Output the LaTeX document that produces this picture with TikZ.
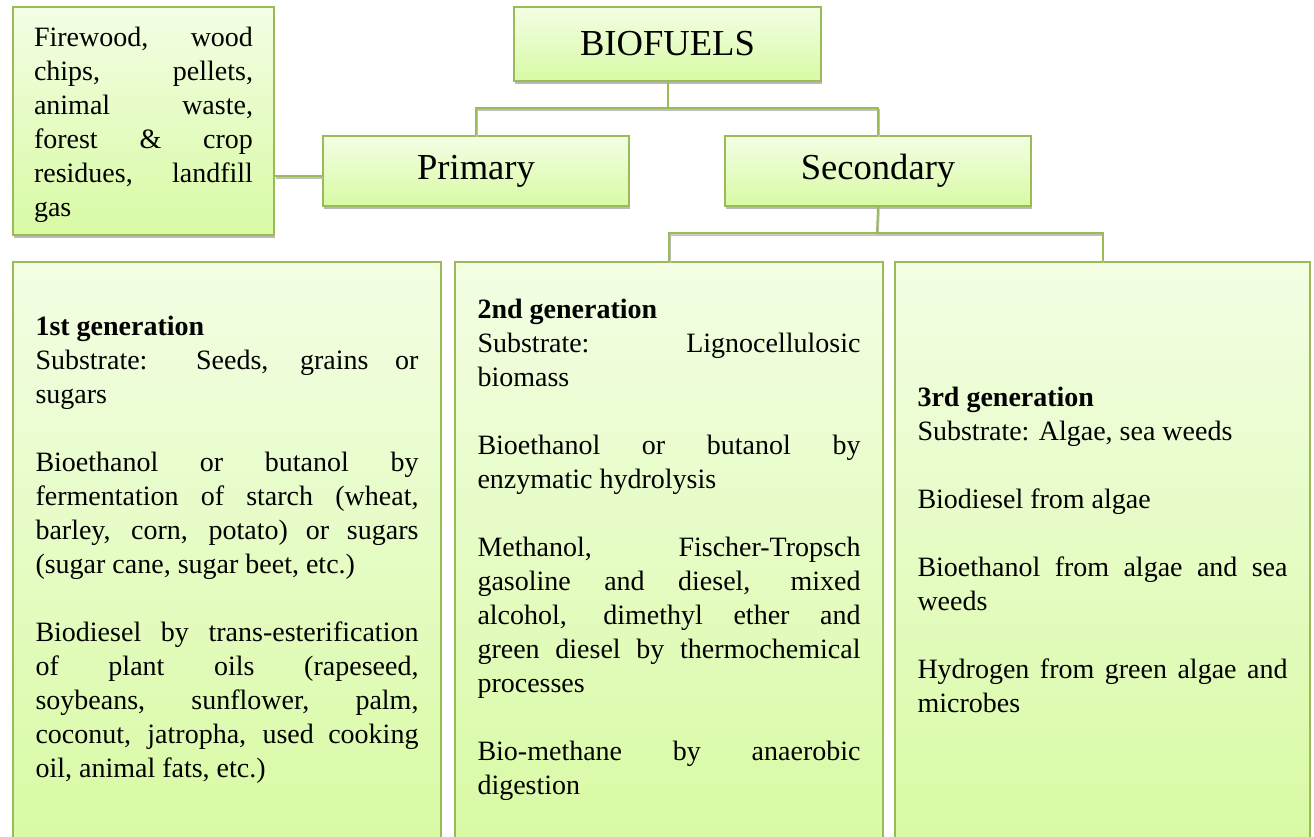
\documentclass[tikz,border=0pt]{standalone}
\usepackage{fontspec}
\setmainfont{Liberation Serif}
\usepackage{tikz}
\usetikzlibrary{calc,shadows}

\definecolor{leafline}{HTML}{9BBB59}
\definecolor{leaftop}{HTML}{F3FEE4}
\definecolor{leafbot}{HTML}{D8FAA4}
\setlength{\parindent}{0pt}
\setlength{\parskip}{0pt}
\tolerance=10000
\hbadness=10000
\newcommand{\blankrow}{\par\vspace{34pt}}

\tikzset{
  leaf/.style={draw=leafline, line width=2pt, top color=leaftop, bottom color=leafbot,
    drop shadow={shadow xshift=1pt, shadow yshift=-3pt, fill=gray!55, opacity=1},
    anchor=north west, text=black},
  headbox/.style={leaf, font=\fontsize{36.6}{40}\selectfont, minimum width=306pt, minimum height=70pt},
  notebox/.style={leaf, font=\fontsize{28}{34}\selectfont, align=justify, inner ysep=0pt},
  genbox/.style={notebox, minimum height=576pt, inner xsep=22.5pt},
  link/.style={draw=leafline, line width=2pt,
    preaction={draw=gray!50, line width=1.5pt, transform canvas={shift={(1pt,-2pt)}}}}
}

\begin{document}
\begin{tikzpicture}[x=1pt,y=-1pt]
    \useasboundingbox (0,0) rectangle (1314,836);
    \clip (0,0) rectangle (1314,836);

    \node[headbox, minimum width=307pt, minimum height=74pt] (bio) at (513,6) {BIOFUELS};
    \node[headbox] (prim) at (322,135) {Primary};
    \node[headbox] (sec) at (724,135) {Secondary};

    \node[notebox, text width=219pt, inner xsep=21pt, minimum height=228pt] (wood) at (12,6)
      {\rule{0pt}{28pt}Firewood, wood\linebreak chips, pellets,\linebreak animal waste,\linebreak forest \& crop\linebreak residues, landfill\linebreak gas};

    \node[genbox, text width=383pt] (gen1) at (12,261)
      {\textbf{1st generation}\par
       Substrate: Seeds, grains or\linebreak sugars\blankrow
       Bioethanol or butanol by\linebreak fermentation of starch (wheat,\linebreak barley, corn, potato) or sugars\linebreak (sugar cane, sugar beet, etc.)\blankrow
       Biodiesel by trans-esterification\linebreak of plant oils (rapeseed,\linebreak soybeans, sunflower, palm,\linebreak coconut, jatropha, used cooking\linebreak oil, animal fats, etc.)};
    \node[genbox, text width=383pt] (gen2) at (454,261)
      {\textbf{2nd generation}\par
       Substrate: Lignocellulosic\linebreak biomass\blankrow
       Bioethanol or butanol by\linebreak enzymatic hydrolysis\blankrow
       Methanol, Fischer-Tropsch\linebreak gasoline and diesel, mixed\linebreak alcohol, dimethyl ether and\linebreak green diesel by thermochemical\linebreak processes\blankrow
       Bio-methane by anaerobic\linebreak digestion};
    \node[genbox, text width=370pt] (gen3) at (894,261)
      {\textbf{3rd generation}\par
       Substrate: Algae, sea weeds\blankrow
       Biodiesel from algae\blankrow
       Bioethanol from algae and sea\linebreak weeds\blankrow
       Hydrogen from green algae and\linebreak microbes};

    \coordinate (bus1) at (665,108);
    \coordinate (bus2) at (877,233);
    \coordinate (tap) at ($(prim.west)+(0,5)$);

    \draw[link] (bio.south) -- (bio.south |- bus1) -| (prim.north);
    \draw[link] (bio.south |- bus1) -| (sec.north);
    \draw[link] (wood.east |- tap) -- (tap);
    \draw[link] (sec.south) -- (bus2) -| (gen2.north);
    \draw[link] (bus2) -| (gen3.north);

  \end{tikzpicture}
\end{document}
